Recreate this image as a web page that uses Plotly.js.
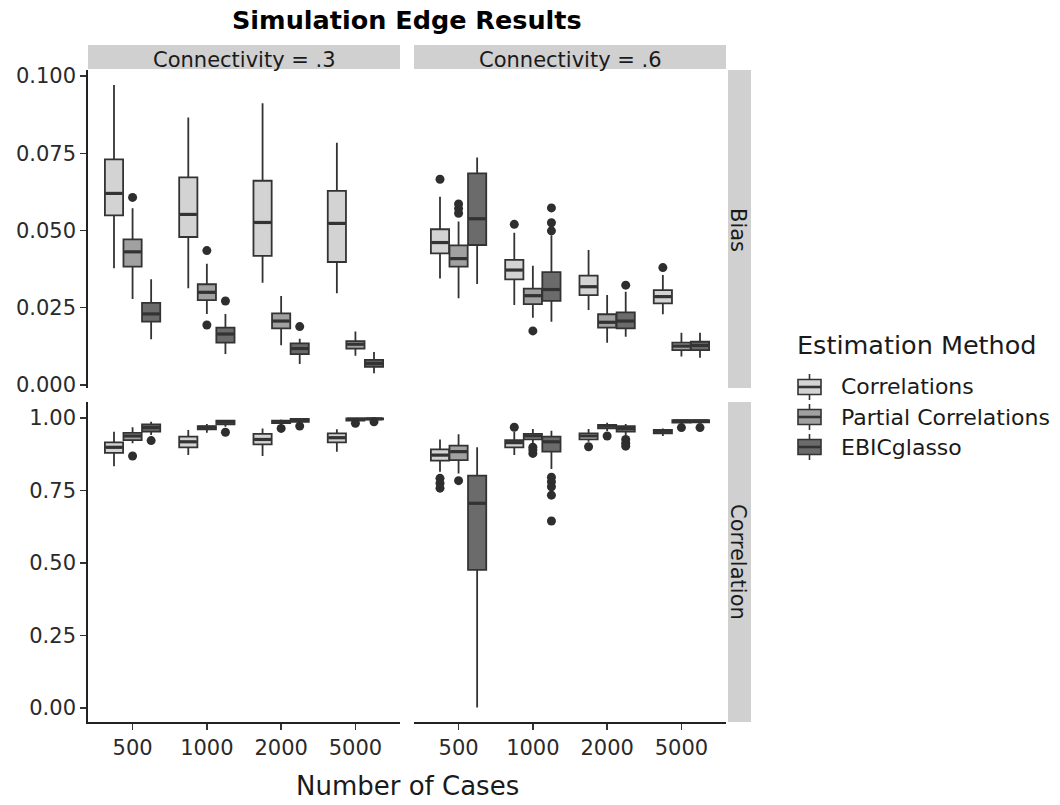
<!DOCTYPE html>
<html>
<head>
<meta charset="utf-8">
<script src="https://cdn.plot.ly/plotly-3.0.1.min.js"></script>
<style>html,body{margin:0;padding:0;background:#fff;}#chart{width:1060px;height:805px;}</style>
</head>
<body>
<div id="chart"></div>
<script>
// ---------------- DATA ----------------
const cases = ['500', '1000', '2000', '5000'];
const methods = ['Correlations', 'Partial Correlations', 'EBICglasso'];
const connectivity = ['Connectivity = .3', 'Connectivity = .6'];
const measures = ['Bias', 'Correlation'];

// each row: [lower whisker, q1, median, q3, upper whisker] for one number of cases
const bias3_cor  = [[0.0378,0.0549,0.0620,0.0730,0.0971],[0.0313,0.0479,0.0552,0.0672,0.0866],[0.0331,0.0418,0.0526,0.0661,0.0912],[0.0297,0.0398,0.0523,0.0628,0.0784]];
const bias3_pcor = [[0.0278,0.0383,0.0431,0.0471,0.0572],[0.0230,0.0275,0.0300,0.0326,0.0392],[0.0129,0.0183,0.0207,0.0232,0.0288],[0.0095,0.0118,0.0132,0.0142,0.0173]];
const bias3_ebic = [[0.0148,0.0205,0.0230,0.0266,0.0342],[0.0100,0.0137,0.0165,0.0186,0.0230],[0.0068,0.0100,0.0118,0.0135,0.0150],[0.0038,0.0059,0.0070,0.0081,0.0107]];
const bias3_cor_out  = [[],[],[],[]];
const bias3_pcor_out = [[0.0607],[0.0435,0.0194],[],[]];
const bias3_ebic_out = [[],[0.0272],[0.0189],[]];

const bias6_cor  = [[0.0345,0.0426,0.0461,0.0504,0.0609],[0.0259,0.0342,0.0372,0.0405,0.0493],[0.0243,0.0291,0.0318,0.0354,0.0437],[0.0229,0.0264,0.0286,0.0307,0.0356]];
const bias6_pcor = [[0.0281,0.0383,0.0409,0.0452,0.0529],[0.0218,0.0262,0.0289,0.0312,0.0386],[0.0137,0.0186,0.0203,0.0229,0.0291],[0.0092,0.0113,0.0126,0.0137,0.0169]];
const bias6_ebic = [[0.0327,0.0453,0.0538,0.0685,0.0736],[0.0205,0.0272,0.0309,0.0365,0.0485],[0.0156,0.0183,0.0207,0.0235,0.0302],[0.0088,0.0113,0.0128,0.0140,0.0169]];
const bias6_cor_out  = [[0.0666],[0.0520],[],[0.0380]];
const bias6_pcor_out = [[0.0586,0.0571,0.0556],[0.0175],[],[]];
const bias6_ebic_out = [[],[0.0573,0.0525,0.0499],[0.0323],[]];

const corr3_cor  = [[0.834,0.880,0.899,0.916,0.953],[0.872,0.899,0.918,0.936,0.959],[0.869,0.909,0.926,0.945,0.964],[0.884,0.916,0.932,0.947,0.961]];
const corr3_pcor = [[0.913,0.924,0.938,0.949,0.968],[0.949,0.961,0.968,0.972,0.979],[0.976,0.982,0.986,0.991,0.995],[0.987,0.991,0.996,0.999,1.000]];
const corr3_ebic = [[0.941,0.953,0.967,0.978,0.987],[0.970,0.978,0.986,0.991,0.993],[0.982,0.987,0.993,0.997,0.999],[0.992,0.995,0.997,0.999,1.000]];
const corr3_cor_out  = [[],[],[],[]];
const corr3_pcor_out = [[0.869],[],[0.964],[0.982]];
const corr3_ebic_out = [[0.922],[0.951],[0.972],[0.987]];

const corr6_cor  = [[0.815,0.853,0.872,0.892,0.926],[0.872,0.899,0.915,0.924,0.953],[0.918,0.926,0.938,0.947,0.962],[0.938,0.947,0.953,0.959,0.964]];
const corr6_pcor = [[0.809,0.855,0.884,0.905,0.944],[0.913,0.926,0.938,0.945,0.962],[0.955,0.964,0.972,0.976,0.984],[0.980,0.984,0.990,0.993,0.996]];
const corr6_ebic = [[0.002,0.476,0.706,0.801,0.899],[0.824,0.884,0.918,0.936,0.956],[0.941,0.953,0.964,0.972,0.979],[0.981,0.985,0.990,0.993,0.996]];
const corr6_cor_out  = [[0.792,0.775,0.758],[0.968],[0.901],[]];
const corr6_pcor_out = [[0.784],[0.899,0.890,0.878],[0.938],[0.967]];
const corr6_ebic_out = [[],[0.796,0.780,0.763,0.734,0.645],[0.926,0.913,0.903],[0.967]];

// ---------------- STYLE ----------------
const fills = ['#d3d3d3', '#a1a1a1', '#6b6b6b'];
const lineCol = '#333333';
const FONT = 'DejaVu Sans, Verdana, sans-serif';
const TXT = '#1a1a1a';
const W = 1060, H = 805;
const px = v => v / W;
const py = v => 1 - v / H;
const BOXW = 0.245;

// panels: [boxes per method, outliers per method, xaxis, yaxis]
const panels = [
  [[corr3_cor, corr3_pcor, corr3_ebic], [corr3_cor_out, corr3_pcor_out, corr3_ebic_out], 'x',  'y'],
  [[corr6_cor, corr6_pcor, corr6_ebic], [corr6_cor_out, corr6_pcor_out, corr6_ebic_out], 'x2', 'y2'],
  [[bias3_cor, bias3_pcor, bias3_ebic], [bias3_cor_out, bias3_pcor_out, bias3_ebic_out], 'x3', 'y3'],
  [[bias6_cor, bias6_pcor, bias6_ebic], [bias6_cor_out, bias6_pcor_out, bias6_ebic_out], 'x4', 'y4']
];
const offsets = [-0.25, 0, 0.25];

const traces = [];
panels.forEach(([boxes, outs, xa, ya]) => {
  boxes.forEach((stats, m) => {
    const xs = cases.map((c, i) => i + 1 + offsets[m]);
    traces.push({
      type: 'box', name: methods[m], showlegend: false,
      xaxis: xa, yaxis: ya, x: xs,
      lowerfence: stats.map(s => s[0]), q1: stats.map(s => s[1]), median: stats.map(s => s[2]),
      q3: stats.map(s => s[3]), upperfence: stats.map(s => s[4]),
      width: BOXW, whiskerwidth: 0, boxpoints: false,
      fillcolor: fills[m], line: { color: lineCol, width: 1.8 },
      hoverinfo: 'skip'
    });
    // thicker median bar, as in ggplot
    const mx = [], my = [];
    stats.forEach((s, i) => { const c = xs[i]; mx.push(c - BOXW / 2 + 0.01, c + BOXW / 2 - 0.01, null); my.push(s[2], s[2], null); });
    traces.push({ type: 'scatter', mode: 'lines', x: mx, y: my, xaxis: xa, yaxis: ya, showlegend: false,
      line: { color: lineCol, width: 3.2 }, hoverinfo: 'skip' });
  });
  outs.forEach((o, m) => {
    const ox = [], oy = [];
    o.forEach((vals, i) => vals.forEach(v => { ox.push(i + 1 + offsets[m]); oy.push(v); }));
    traces.push({
      type: 'scatter', mode: 'markers', x: ox, y: oy, xaxis: xa, yaxis: ya,
      showlegend: false, marker: { color: '#2e2e2e', size: 9 }, hoverinfo: 'skip'
    });
  });
});

// ---------------- LAYOUT ----------------
const xL = [px(88), px(400)], xR = [px(414), px(726)];
const yTop = [py(388), py(70)], yBot = [py(722), py(402)];
const biasRange = [(385 - 388) / 3090, (385 - 70) / 3090];
const corrRange = [(708 - 722) / 290, (708 - 402) / 290];

const tickFont = { size: 21, color: '#2a2a2a', family: FONT };
const xBase = { range: [0.4, 4.6], tickvals: [1, 2, 3, 4], ticktext: cases, showgrid: false, zeroline: false, tickfont: tickFont, fixedrange: true };
const axShown = { showline: true, linecolor: '#222', linewidth: 1.8, ticks: 'outside', ticklen: 6, tickwidth: 1.4, tickcolor: '#333' };
const axHidden = { showline: false, ticks: '', showticklabels: false };
const yBase = { showgrid: false, zeroline: false, fixedrange: true, tickfont: tickFont };

const shapes = [
  { type: 'rect', xref: 'paper', yref: 'paper', x0: px(88), x1: px(400), y0: py(69), y1: py(45), fillcolor: '#d0d0d0', line: { width: 0 }, layer: 'below' },
  { type: 'rect', xref: 'paper', yref: 'paper', x0: px(414), x1: px(726), y0: py(69), y1: py(45), fillcolor: '#d0d0d0', line: { width: 0 }, layer: 'below' },
  { type: 'rect', xref: 'paper', yref: 'paper', x0: px(728), x1: px(751), y0: py(388), y1: py(70), fillcolor: '#d0d0d0', line: { width: 0 }, layer: 'below' },
  { type: 'rect', xref: 'paper', yref: 'paper', x0: px(728), x1: px(751), y0: py(722), y1: py(402), fillcolor: '#d0d0d0', line: { width: 0 }, layer: 'below' }
];
const annotations = [
  { text: '<b>Simulation Edge Results</b>', xref: 'paper', yref: 'paper', x: px(407), y: py(20), xanchor: 'center', yanchor: 'middle', showarrow: false, font: { size: 25.5, family: FONT, color: '#000' } },
  { text: connectivity[0], xref: 'paper', yref: 'paper', x: px(244), y: py(60), xanchor: 'center', yanchor: 'middle', showarrow: false, font: { size: 21, family: FONT, color: TXT } },
  { text: connectivity[1], xref: 'paper', yref: 'paper', x: px(570), y: py(60), xanchor: 'center', yanchor: 'middle', showarrow: false, font: { size: 21, family: FONT, color: TXT } },
  { text: measures[0], xref: 'paper', yref: 'paper', x: px(738), y: py(230), xanchor: 'center', yanchor: 'middle', textangle: 90, showarrow: false, font: { size: 21, family: FONT, color: TXT } },
  { text: measures[1], xref: 'paper', yref: 'paper', x: px(738), y: py(562), xanchor: 'center', yanchor: 'middle', textangle: 90, showarrow: false, font: { size: 21, family: FONT, color: TXT } },
  { text: 'Number of Cases', xref: 'paper', yref: 'paper', x: px(407), y: py(786), xanchor: 'center', yanchor: 'middle', showarrow: false, font: { size: 26, family: FONT, color: TXT } },
  { text: 'Estimation Method', xref: 'paper', yref: 'paper', x: px(795), y: py(345), xanchor: 'left', yanchor: 'middle', showarrow: false, font: { size: 25.5, family: FONT, color: TXT } }
];
// custom legend (boxplot key glyphs)
methods.forEach((m, k) => {
  const cy = 387 + 30 * k;
  shapes.push({ type: 'line', xref: 'paper', yref: 'paper', x0: px(809.5), x1: px(809.5), y0: py(cy - 13), y1: py(cy + 13), line: { color: lineCol, width: 1.6 } });
  shapes.push({ type: 'rect', xref: 'paper', yref: 'paper', x0: px(798), x1: px(821), y0: py(cy + 7.5), y1: py(cy - 7.5), fillcolor: fills[k], line: { color: lineCol, width: 1.6 } });
  shapes.push({ type: 'line', xref: 'paper', yref: 'paper', x0: px(798), x1: px(821), y0: py(cy), y1: py(cy), line: { color: lineCol, width: 2.6 } });
  annotations.push({ text: m, xref: 'paper', yref: 'paper', x: px(839), y: py(cy), xanchor: 'left', yanchor: 'middle', showarrow: false, font: { size: 22, family: FONT, color: TXT } });
});

const layout = {
  width: W, height: H, margin: { l: 0, r: 0, t: 0, b: 0 },
  paper_bgcolor: '#fff', plot_bgcolor: '#fff',
  font: { family: FONT, color: TXT },
  showlegend: false,
  xaxis:  Object.assign({}, xBase, axShown, { domain: xL, anchor: 'y' }),
  xaxis2: Object.assign({}, xBase, axShown, { domain: xR, anchor: 'y2' }),
  xaxis3: Object.assign({}, xBase, axHidden, { domain: xL, anchor: 'y3' }),
  xaxis4: Object.assign({}, xBase, axHidden, { domain: xR, anchor: 'y4' }),
  yaxis:  Object.assign({}, yBase, axShown, { domain: yBot, anchor: 'x', range: corrRange, tickvals: [0, 0.25, 0.5, 0.75, 1], tickformat: '.2f' }),
  yaxis2: Object.assign({}, yBase, axHidden, { domain: yBot, anchor: 'x2', range: corrRange }),
  yaxis3: Object.assign({}, yBase, axShown, { domain: yTop, anchor: 'x3', range: biasRange, tickvals: [0, 0.025, 0.05, 0.075, 0.1], tickformat: '.3f' }),
  yaxis4: Object.assign({}, yBase, axHidden, { domain: yTop, anchor: 'x4', range: biasRange }),
  shapes: shapes,
  annotations: annotations
};

Plotly.newPlot('chart', traces, layout, { staticPlot: true, displayModeBar: false });
</script>
</body>
</html>
